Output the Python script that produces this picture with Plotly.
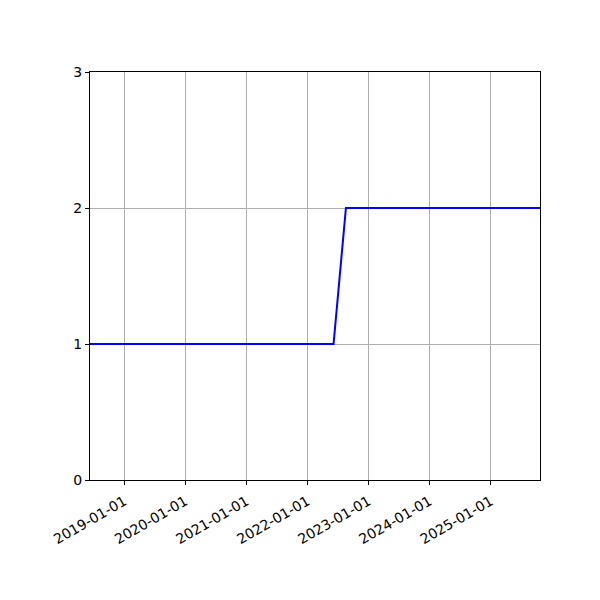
import plotly.graph_objects as go

dates = ["2018-06-10", "2022-06-06", "2022-08-19", "2025-10-23"]
values = [1, 1, 2, 2]
x_ticks = ["2019-01-01", "2020-01-01", "2021-01-01", "2022-01-01",
           "2023-01-01", "2024-01-01", "2025-01-01"]
y_ticks = [0, 1, 2, 3]

fig = go.Figure()
fig.add_trace(go.Scatter(x=dates, y=values, mode="lines",
                         line=dict(color="blue", width=2)))

# the page body adds 8px, so margins are trimmed by that
fig.update_layout(
    width=600, height=600,
    margin=dict(l=82, r=68, t=64, b=128),
    paper_bgcolor="white", plot_bgcolor="white",
    font=dict(family="DejaVu Sans", size=14, color="black"),
    showlegend=False,
)
fig.update_xaxes(
    range=[dates[0], dates[-1]],
    tickvals=x_ticks, ticktext=x_ticks, tickangle=-30,
    ticklabelstandoff=3,
    showgrid=True, gridcolor="#b0b0b0", gridwidth=1,
    showline=True, linecolor="black", linewidth=1, mirror=True,
    ticks="outside", ticklen=4, tickcolor="black", zeroline=False,
)
fig.update_yaxes(
    range=[0, 3], tickvals=y_ticks,
    showgrid=True, gridcolor="#b0b0b0", gridwidth=1,
    showline=True, linecolor="black", linewidth=1, mirror=True,
    ticks="outside", ticklen=4, tickcolor="black", zeroline=False,
)

fig.write_html("out.html")
